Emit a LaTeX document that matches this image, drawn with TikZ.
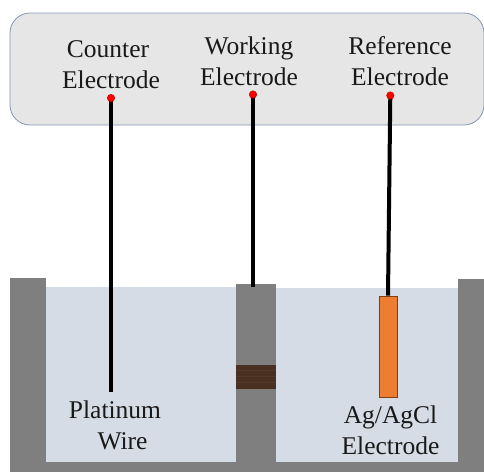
\documentclass[tikz,border=0pt]{standalone}
\usepackage{fontspec}
\setmainfont{Liberation Serif}
\usepackage{xcolor}
\usetikzlibrary{positioning}
\definecolor{panelgray}{HTML}{E7E6E6}
\definecolor{panelline}{HTML}{8497B0}
\definecolor{wallgray}{HTML}{7F7F7F}
\definecolor{paleblue}{HTML}{D6DCE5}
\definecolor{fritbrown}{HTML}{4A3020}
\definecolor{fritline}{HTML}{523828}
\definecolor{agorange}{HTML}{ED7D31}
\definecolor{agline}{HTML}{843C0C}
\begin{document}
\begin{tikzpicture}[x=1pt,y=-1pt,
 lbl/.style={align=center,inner sep=0pt,text=black!90,font=\fontsize{25.5}{31}\selectfont},
 dot/.style={circle,fill=red,draw=red!70!black,line width=.4pt,inner sep=0pt,minimum size=7.5pt},
 wire/.style={draw=black,line width=4.5pt}]
\useasboundingbox (0,0) rectangle (484,472);
\fill[white] (0,0) rectangle (484,472);
% control box
\draw[panelline,fill=panelgray,line width=.8pt,rounded corners=20pt] (10,13) rectangle (484,125);
% cell
\fill[wallgray] (9.5,277.5) rectangle (46,472);
\fill[wallgray] (46,462) rectangle (458,472);
\fill[wallgray] (236,284) rectangle (276,462);
\fill[wallgray] (458,279) rectangle (484,472);
\fill[paleblue] (46,287) rectangle (236,462);
\fill[paleblue] (276,288) rectangle (458,462);
% frit
\fill[fritbrown] (236,365) rectangle (276,389);
\foreach \y in {370,376,382}
  \draw[fritline,line width=.6pt] (236,\y) -- (276,\y);
% electrodes
\coordinate (pt) at (111,392);
\coordinate (wall) at (253,287);
\node[draw=agline,fill=agorange,line width=.7pt,inner sep=0pt,minimum width=18pt,minimum height=101pt] (agcl) at (388,346.5) {};
\draw[wire] (111,98) -- (pt);
\draw[wire] (253,94.5) -- (wall);
\draw[wire,line width=4pt] (390.3,95.5) -- (agcl.north);
\node[dot] (ce) at (111,98) {};
\node[dot] (we) at (253,94.5) {};
\node[dot] (re) at (390.3,95.5) {};
% labels
\node[lbl] (celbl) at (108,65) {Counter\\\hspace{6pt}Electrode};
\node[lbl] (welbl) at (249,61) {Working\\Electrode};
\node[lbl] (relbl) at (400,61) {Reference\\Electrode};
\node[lbl] (ptlbl) at (115,425.5) {Platinum\\\hspace{15pt}Wire};
\node[lbl] (aglbl) at (390.5,430) {Ag/AgCl\\Electrode};
\end{tikzpicture}
\end{document}
